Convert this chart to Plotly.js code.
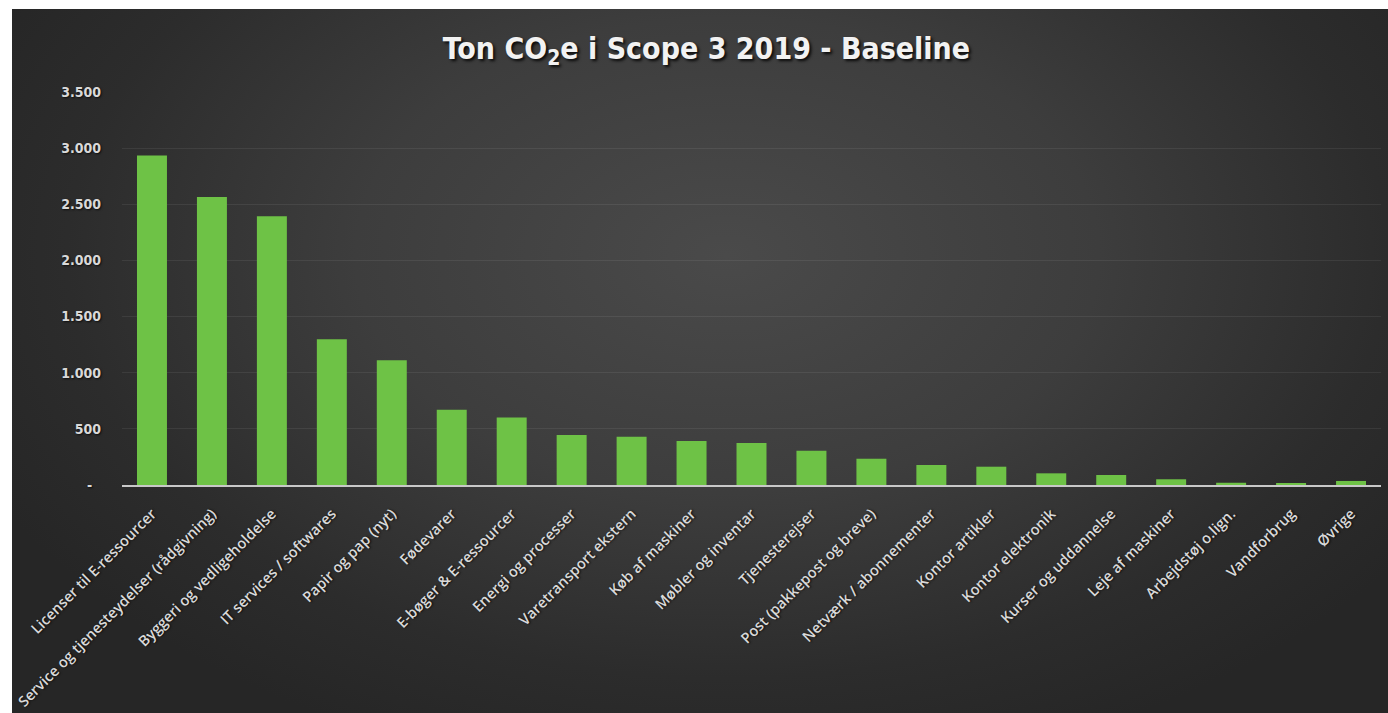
<!DOCTYPE html>
<html>
<head>
<meta charset="utf-8">
<script src="https://cdn.plot.ly/plotly-3.0.1.min.js"></script>
<style>
  html, body { margin: 0; padding: 0; background: #ffffff; width: 1388px; height: 713px; overflow: hidden; }
  #bg { position: absolute; left: 12px; top: 9px; width: 1376px; height: 704px;
        background: radial-gradient(ellipse 60% 75% at 52% 35%, #4a4a4a 0%, #3d3d3d 45%, #2c2c2c 80%, #262626 100%); }
  #chart { position: absolute; left: 0; top: 0; width: 1388px; height: 713px; }
</style>
</head>
<body>
<div id="bg"></div>
<div id="chart"></div>
<script>
const categories = [
  "Licenser til E-ressourcer",
  "Service og tjenesteydelser (rådgivning)",
  "Byggeri og vedligeholdelse",
  "IT services / softwares",
  "Papir og pap (nyt)",
  "Fødevarer",
  "E-bøger & E-ressourcer",
  "Energi og processer",
  "Varetransport ekstern",
  "Køb af maskiner",
  "Møbler og inventar",
  "Tjenesterejser",
  "Post (pakkepost og breve)",
  "Netværk / abonnementer",
  "Kontor artikler",
  "Kontor elektronik",
  "Kurser og uddannelse",
  "Leje af maskiner",
  "Arbejdstøj o.lign.",
  "Vandforbrug",
  "Øvrige"
];
const tonCO2e = [2935, 2565, 2394, 1297, 1112, 670, 602, 445, 430, 392, 374, 305, 234, 178, 163, 104, 89, 51, 20, 18, 36];
const yTickValues = [0, 500, 1000, 1500, 2000, 2500, 3000, 3500];
const yTickLabels = ["-\u00a0\u00a0", "500", "1.000", "1.500", "2.000", "2.500", "3.000", "3.500"];

const trace = {
  type: "bar",
  x: categories,
  y: tonCO2e,
  width: 0.5,
  marker: { color: "rgb(110,194,70)", line: { width: 0 } },
  hoverinfo: "x+y"
};

const layout = {
  width: 1388,
  height: 713,
  paper_bgcolor: "rgba(0,0,0,0)",
  plot_bgcolor: "rgba(0,0,0,0)",
  margin: { l: 122, r: 7, t: 92, b: 228 },
  showlegend: false,
  title: {
    text: "Ton CO<sub>2</sub>e i Scope 3 2019 - Baseline",
    xref: "container",
    x: 0.509,
    xanchor: "center",
    yref: "container",
    y: 1 - 48 / 713,
    yanchor: "middle",
    font: { family: "DejaVu Sans Condensed, DejaVu Sans, sans-serif", size: 30, color: "#f2f2f2", weight: "bold",
            shadow: "2px 2px 3px rgba(0,0,0,0.85)" }
  },
  xaxis: {
    type: "category",
    tickangle: -45,
    showline: true,
    linecolor: "#c8c8c8",
    linewidth: 1.5,
    ticks: "",
    showgrid: false,
    ticklabelstandoff: 13,
    tickfont: { family: "Open Sans, DejaVu Sans, sans-serif", size: 14.7, color: "#d9d9d9", weight: 600,
                shadow: "1px 1px 2px rgba(0,0,0,0.7)" },
    fixedrange: true
  },
  yaxis: {
    range: [0, 3500],
    tickvals: yTickValues,
    ticktext: yTickLabels,
    showgrid: true,
    gridcolor: "rgba(255,255,255,0.07)",
    gridwidth: 1,
    zeroline: false,
    showline: false,
    ticks: "",
    ticklabelstandoff: 20,
    tickfont: { family: "DejaVu Sans Condensed, DejaVu Sans, sans-serif", size: 14, color: "#d9d9d9", weight: "bold",
                shadow: "1px 1px 2px rgba(0,0,0,0.7)" },
    fixedrange: true
  }
};

Plotly.newPlot("chart", [trace], layout, { displayModeBar: false, staticPlot: true });
</script>
</body>
</html>
